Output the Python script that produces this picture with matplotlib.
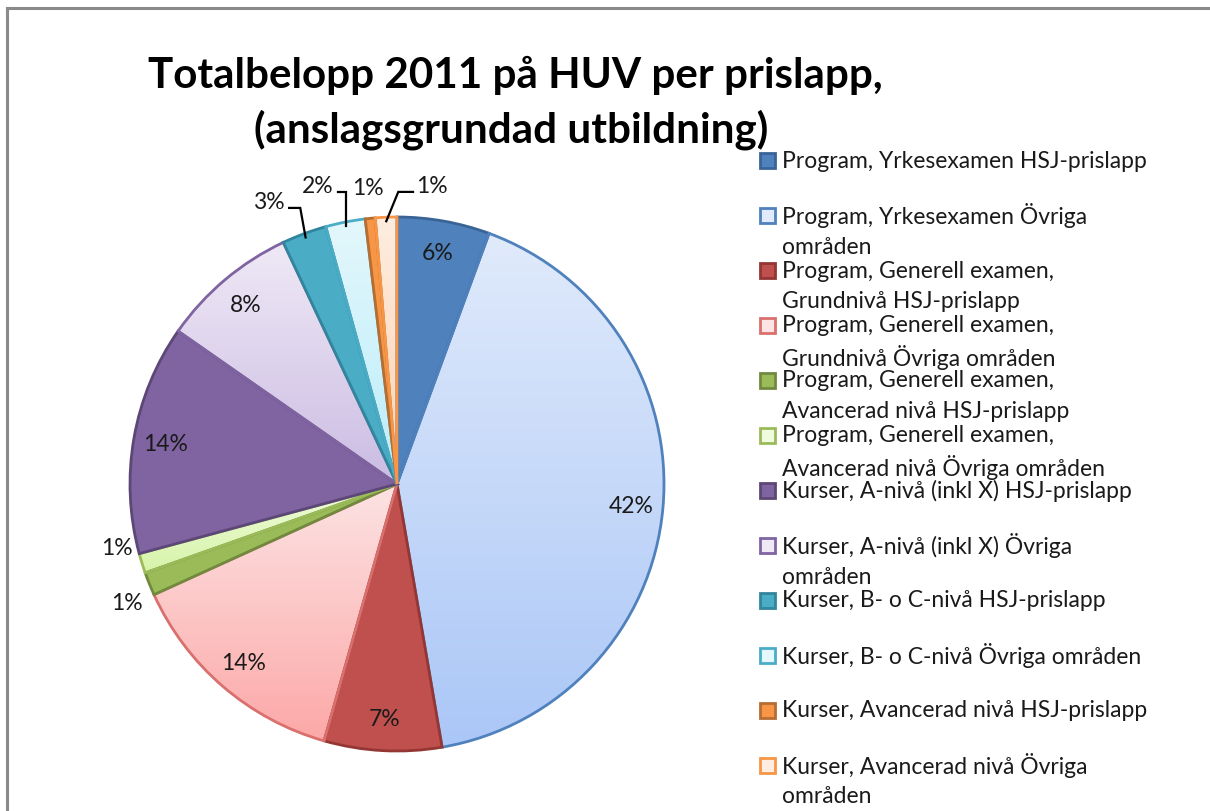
import matplotlib
matplotlib.use("Agg")
import matplotlib.pyplot as plt
import numpy as np
from matplotlib.patches import Rectangle
from matplotlib.lines import Line2D
from matplotlib.colors import LinearSegmentedColormap

# ---------------- data ----------------
categories = [
    "Program, Yrkesexamen HSJ-prislapp",
    "Program, Yrkesexamen Övriga\nområden",
    "Program, Generell examen,\nGrundnivå HSJ-prislapp",
    "Program, Generell examen,\nGrundnivå Övriga områden",
    "Program, Generell examen,\nAvancerad nivå HSJ-prislapp",
    "Program, Generell examen,\nAvancerad nivå Övriga områden",
    "Kurser, A-nivå (inkl X) HSJ-prislapp",
    "Kurser, A-nivå (inkl X) Övriga\nområden",
    "Kurser, B- o C-nivå HSJ-prislapp",
    "Kurser, B- o C-nivå Övriga områden",
    "Kurser, Avancerad nivå HSJ-prislapp",
    "Kurser, Avancerad nivå Övriga\nområden",
]
shares = [5.6, 41.7, 7.1, 13.8, 1.4, 1.2, 13.9, 8.3, 2.7, 2.4, 0.6, 1.3]
title_lines = ["Totalbelopp 2011 på HUV per prislapp,", "(anslagsgrundad utbildning)"]

# ---------------- style ----------------
# (top colour, bottom colour, edge colour)
styles = [
    ("#4F81BD", "#4F81BD", "#3B6496"),
    ("#E0EAFB", "#ABC7F7", "#4F81BD"),
    ("#C0504D", "#C0504D", "#943634"),
    ("#FDE3E3", "#FCA8A8", "#D9706D"),
    ("#9BBB59", "#9BBB59", "#71893F"),
    ("#F0FBDD", "#D6F4A8", "#9BBB59"),
    ("#8064A2", "#8064A2", "#5C4776"),
    ("#EFE9F6", "#CBBCE3", "#8064A2"),
    ("#4BACC6", "#4BACC6", "#31859C"),
    ("#E3F7FC", "#BCEDFA", "#4BACC6"),
    ("#F79646", "#F79646", "#B66D31"),
    ("#FEEDE0", "#FCD2B0", "#F79646"),
]
FONT = ["Lato", "DejaVu Sans"]
plt.rcParams["font.family"] = FONT

W, H = 1210, 812
fig = plt.figure(figsize=(W / 100, H / 100), dpi=100)
fig.patch.set_facecolor("white")


def fx(x):
    return x / W


def fy(y):
    return 1 - y / H


# pie axes: centre (397,485) px, radius 267 px
cx, cy, R = 397, 485, 267
lim = 1.25
side = 2 * lim * R
ax = fig.add_axes([fx(cx - side / 2), (H - cy - side / 2) / H, side / W, side / H])

wedges, texts, autotexts = ax.pie(
    shares,
    startangle=90,
    counterclock=False,
    colors=[s[0] for s in styles],
    autopct="%.0f%%",
    pctdistance=0.88,
    wedgeprops=dict(linewidth=2.0),
    textprops=dict(fontsize=16.5, color="#1a1a1a", family=FONT),
)

for i, w in enumerate(wedges):
    top, bot, edge = styles[i]
    w.set_edgecolor(edge)
    w.set_zorder(2)
    if top != bot:
        w.set_facecolor("none")
        bb = w.get_path().get_extents()
        cmap = LinearSegmentedColormap.from_list("g%d" % i, [top, bot])
        grad = np.linspace(0, 1, 256).reshape(-1, 1)
        im = ax.imshow(grad, extent=(bb.x0, bb.x1, bb.y0, bb.y1), origin="upper",
                       cmap=cmap, aspect="auto", zorder=1, interpolation="bilinear")
        im.set_clip_path(w)

ax.set_aspect("equal")
ax.set_xlim(-lim, lim)
ax.set_ylim(-lim, lim)
ax.axis("off")

# labels of small slices placed outside
outside = {
    4: dict(text=(-1.011, -0.442)),
    5: dict(text=(-1.049, -0.236)),
    8: dict(elbow_y=1.034, elbow_dx=-0.02, tail_x=-0.404, ha="right"),
    9: dict(elbow_y=1.094, elbow_dx=0.0, tail_x=-0.221, ha="right"),
    10: dict(text=(-0.11, 1.11)),
    11: dict(elbow_y=1.094, elbow_dx=0.045, tail_x=0.06, ha="left"),
}
for i, cfg in outside.items():
    t = autotexts[i]
    if "text" in cfg:
        t.set_position(cfg["text"])
        continue
    w = wedges[i]
    mid = np.deg2rad((w.theta1 + w.theta2) / 2)
    p0 = (0.985 * np.cos(mid), 0.985 * np.sin(mid))
    p1 = (p0[0] + cfg["elbow_dx"], cfg["elbow_y"])
    p2 = (cfg["tail_x"], cfg["elbow_y"])
    ax.plot([p0[0], p1[0], p2[0]], [p0[1], p1[1], p2[1]], color="black", lw=1.6,
            zorder=4, clip_on=False, solid_joinstyle="miter")
    off = -0.018 if cfg["ha"] == "right" else 0.012
    t.set_position((cfg["tail_x"] + off, cfg["elbow_y"] + 0.025))
    t.set_ha(cfg["ha"])

# title
fig.text(fx(515), fy(75), title_lines[0], ha="center", va="center", fontsize=30.3,
         fontweight="bold", color="black")
fig.text(fx(511), fy(130), title_lines[1], ha="center", va="center", fontsize=30.3,
         fontweight="bold", color="black")

# legend (manual, Excel-like)
y0, step, lsp = 161, 55, 31
for i, lab in enumerate(categories):
    top, bot, edge = styles[i]
    yc = y0 + step * i
    sq = 15
    fig.add_artist(Rectangle((fx(767 - sq / 2), fy(yc + sq / 2)), sq / W, sq / H,
                             transform=fig.transFigure, facecolor=top,
                             edgecolor=edge, linewidth=2))
    for k, line in enumerate(lab.split("\n")):
        fig.text(fx(782), fy(yc + k * lsp), line, ha="left", va="center",
                 fontsize=16.5, color="#1a1a1a")

# chart border (top & left visible)
fig.add_artist(Line2D([fx(7), fx(7)], [fy(9), 0], transform=fig.transFigure,
                      color="#8a8a8a", lw=2.2))
fig.add_artist(Line2D([fx(7), 1], [fy(9), fy(9)], transform=fig.transFigure,
                      color="#8a8a8a", lw=2.2))

fig.savefig("out.png", dpi=100)
